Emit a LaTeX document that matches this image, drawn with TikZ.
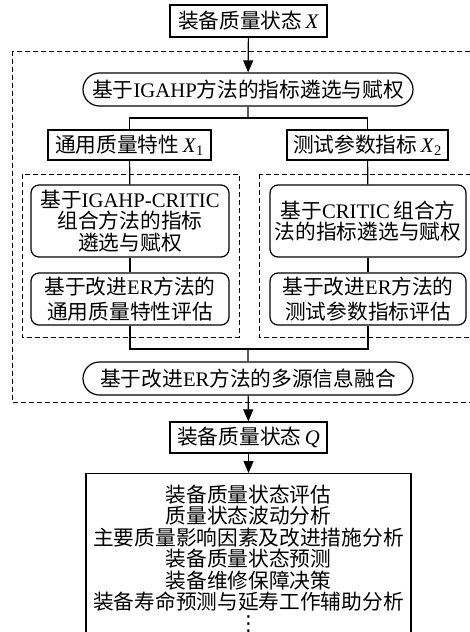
\documentclass[tikz,border=0pt]{standalone}
\usepackage{fontspec}
\setmainfont{Liberation Serif}
\newfontfamily\cjk{Noto Sans CJK SC}
\newfontfamily\sym{DejaVu Sans}
\usetikzlibrary{arrows.meta,shapes.misc}
\newcommand{\zh}[1]{{\cjk #1}}

\begin{document}
\begin{tikzpicture}[x=1pt,y=-1pt,
	every node/.style={font=\fontsize{20.7}{21.5}\selectfont, align=center, inner sep=0pt},
	box/.style={draw, line width=1.2pt},
	rbox/.style={draw, line width=1.2pt, rounded corners=8pt},
	pill/.style={draw, line width=1.2pt, rounded rectangle, minimum width=330pt, minimum height=33pt},
	frame/.style={dash pattern=on 5pt off 3pt, line width=0.8pt},
	link/.style={line width=1.2pt},
	arr/.style={line width=1.2pt, -{Triangle[length=12pt,width=10pt]}}]
	\clip (0,0) rectangle (470,632);
	% dashed frames
	\draw[frame] (12,51) rectangle (478,402);
	\draw[frame] (22,174) rectangle (239,337);
	\draw[frame] (259,174) rectangle (478,337);

	\node[box, minimum width=157pt, minimum height=32pt] (sx) at (248.5,21) {\zh{装备质量状态}\,\textit{X}};
	\node[pill] (igahp) at (248,89.5) {\zh{基于}IGAHP\zh{方法的指标遴选与赋权}};
	\node[box, minimum width=163pt, minimum height=30pt] (x1) at (129.5,145) {\zh{通用质量特性}\,\textit{X}\textsubscript{1}};
	\node[box, minimum width=161pt, minimum height=30pt] (x2) at (367.5,145) {\zh{测试参数指标}\,\textit{X}\textsubscript{2}};

	\node[rbox, minimum width=198pt, minimum height=72pt] (m1) at (130,221) {\zh{基于}IGAHP-CRITIC\\\zh{组合方法的指标}\\\zh{遴选与赋权}};
	\node[rbox, minimum width=196pt, minimum height=72pt] (m2) at (368,221) {\zh{基于}CRITIC\,\zh{组合方}\\\zh{法的指标遴选与赋权}};
	\node[rbox, minimum width=198pt, minimum height=52pt] (e1) at (130,299) {\zh{基于改进}ER\zh{方法的}\\[3pt]\zh{通用质量特性评估}};
	\node[rbox, minimum width=196pt, minimum height=52pt] (e2) at (368,299) {\zh{基于改进}ER\zh{方法的}\\[3pt]\zh{测试参数指标评估}};

	\node[pill] (fuse) at (248,378.5) {\zh{基于改进}ER\zh{方法的多源信息融合}};
	\node[box, minimum width=157pt, minimum height=31pt] (sq) at (248.5,437.5) {\zh{装备质量状态}\,\textit{Q}};
	\node[box, anchor=north, minimum width=325pt, minimum height=170pt] (use) at (248.5,473) {\zh{装备质量状态评估}\\\zh{质量状态波动分析}\\\zh{主要质量影响因素及改进措施分析}\\\zh{装备质量状态预测}\\\zh{装备维修保障决策}\\\zh{装备寿命预测与延寿工作辅助分析}\\[-1pt]{\sym ⋮}};

	\coordinate (split) at (248,118);
	\coordinate (join) at (248,349);
	\draw[arr] (sx) -- (igahp);
	\draw[link] (igahp) -- (split);
	\draw[link] (x1) |- (split) -| (x2);
	\draw[link] (x1) -- (m1);
	\draw[link] (x2) -- (m2);
	\draw[link] (m1) -- (e1);
	\draw[link] (m2) -- (e2);
	\draw[link] (e1) |- (join) -| (e2);
	\draw[link] (join) -- (fuse);
	\draw[arr] (fuse) -- (sq);
	\draw[arr] (sq) -- (use);
\end{tikzpicture}
\end{document}
